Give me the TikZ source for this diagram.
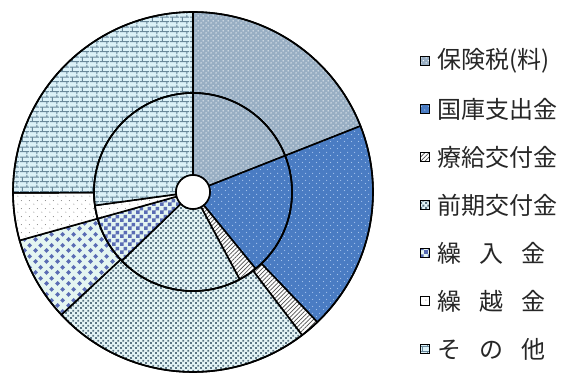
\documentclass[tikz,border=0pt]{standalone}
\usepackage{fontspec}
\usepackage{xcolor}
\usepackage{tikz}
\usetikzlibrary{patterns, patterns.meta, positioning}

\newfontfamily\jpfont{Noto Sans CJK JP}

\definecolor{hokenbg}{HTML}{98AEC3}
\definecolor{kokkobg}{HTML}{4A7CC3}
\definecolor{kokkodot}{HTML}{A4C2EC}
\definecolor{stripe}{HTML}{505050}
\definecolor{zenkibg}{HTML}{E4F4F6}
\definecolor{zenkisq}{HTML}{5A7382}
\definecolor{kuriibg}{HTML}{E4F5F1}
\definecolor{kuriisq}{HTML}{5A6CB4}
\definecolor{koshidot}{HTML}{8C8C8C}
\definecolor{sonotabg}{HTML}{DBF1F8}
\definecolor{brickline}{HTML}{68879A}

\pgfdeclarepatternformonly{hokendots}{\pgfpointorigin}{\pgfpoint{5pt}{5pt}}{\pgfpoint{5pt}{5pt}}{%
  \pgfpathcircle{\pgfpoint{1.25pt}{1.25pt}}{0.8pt}%
  \pgfpathcircle{\pgfpoint{3.75pt}{3.75pt}}{0.8pt}%
  \pgfusepath{fill}%
}
\pgfdeclarepatternformonly{kokkodots}{\pgfpointorigin}{\pgfpoint{7pt}{7pt}}{\pgfpoint{7pt}{7pt}}{%
  \pgfpathcircle{\pgfpoint{1.75pt}{1.75pt}}{0.7pt}%
  \pgfpathcircle{\pgfpoint{5.25pt}{5.25pt}}{0.7pt}%
  \pgfusepath{fill}%
}
\pgfdeclarepatternformonly{sparsedots}{\pgfpointorigin}{\pgfpoint{8pt}{8pt}}{\pgfpoint{8pt}{8pt}}{%
  \pgfpathcircle{\pgfpoint{2pt}{2pt}}{0.6pt}%
  \pgfpathcircle{\pgfpoint{6pt}{6pt}}{0.6pt}%
  \pgfusepath{fill}%
}
\pgfdeclarepatternformonly{finechecker}{\pgfpointorigin}{\pgfpoint{5pt}{5pt}}{\pgfpoint{5pt}{5pt}}{%
  \pgfpathrectangle{\pgfpoint{0.25pt}{0.25pt}}{\pgfpoint{2.1pt}{2.1pt}}%
  \pgfpathrectangle{\pgfpoint{2.75pt}{2.75pt}}{\pgfpoint{2.1pt}{2.1pt}}%
  \pgfusepath{fill}%
}
\pgfdeclarepatternformonly{bigchecker}{\pgfpointorigin}{\pgfpoint{8pt}{8pt}}{\pgfpoint{8pt}{8pt}}{%
  \pgfpathrectangle{\pgfpoint{0pt}{0pt}}{\pgfpoint{4pt}{4pt}}%
  \pgfpathrectangle{\pgfpoint{4pt}{4pt}}{\pgfpoint{4pt}{4pt}}%
  \pgfusepath{fill}%
}
\pgfdeclarepatternformonly{bigdiamond}{\pgfpointorigin}{\pgfpoint{11pt}{11pt}}{\pgfpoint{11pt}{11pt}}{%
  \pgfpathmoveto{\pgfpoint{2.75pt}{0.1pt}}\pgfpathlineto{\pgfpoint{5.4pt}{2.75pt}}%
  \pgfpathlineto{\pgfpoint{2.75pt}{5.4pt}}\pgfpathlineto{\pgfpoint{0.1pt}{2.75pt}}\pgfpathclose
  \pgfpathmoveto{\pgfpoint{8.25pt}{5.6pt}}\pgfpathlineto{\pgfpoint{10.9pt}{8.25pt}}%
  \pgfpathlineto{\pgfpoint{8.25pt}{10.9pt}}\pgfpathlineto{\pgfpoint{5.6pt}{8.25pt}}\pgfpathclose
  \pgfusepath{fill}%
}
\pgfdeclarepatternformonly{smallbricks}{\pgfpointorigin}{\pgfpoint{10pt}{10pt}}{\pgfpoint{10pt}{10pt}}{%
  \pgfsetlinewidth{1.1pt}%
  \pgfpathmoveto{\pgfpoint{0pt}{2.5pt}}\pgfpathlineto{\pgfpoint{10pt}{2.5pt}}%
  \pgfpathmoveto{\pgfpoint{0pt}{7.5pt}}\pgfpathlineto{\pgfpoint{10pt}{7.5pt}}%
  \pgfpathmoveto{\pgfpoint{2.5pt}{2.5pt}}\pgfpathlineto{\pgfpoint{2.5pt}{7.5pt}}%
  \pgfpathmoveto{\pgfpoint{7.5pt}{0pt}}\pgfpathlineto{\pgfpoint{7.5pt}{2.5pt}}%
  \pgfpathmoveto{\pgfpoint{7.5pt}{7.5pt}}\pgfpathlineto{\pgfpoint{7.5pt}{10pt}}%
  \pgfusepath{stroke}%
}

\begin{document}
\begin{tikzpicture}[x = 1pt, y = 1pt,
    ring/.style = {draw = black, line width = 1.6pt, line join = round},
    hoken/.style = {preaction = {fill = hokenbg}, pattern = hokendots, pattern color = white},
    kokko/.style = {preaction = {fill = kokkobg}, pattern = kokkodots, pattern color = kokkodot},
    ryokyu/.style = {preaction = {fill = white}, pattern = {Lines[angle = 45, distance = 3pt, line width = 0.7pt]}, pattern color = stripe},
    zenki/.style = {preaction = {fill = zenkibg}, pattern = finechecker, pattern color = zenkisq},
    kurii/.style = {preaction = {fill = kuriibg}, pattern = bigdiamond, pattern color = kuriisq},
    kuriiin/.style = {preaction = {fill = kuriibg}, pattern = bigchecker, pattern color = kuriisq},
    koshi/.style = {preaction = {fill = white}, pattern = sparsedots, pattern color = koshidot},
    sonota/.style = {preaction = {fill = sonotabg}, pattern = smallbricks, pattern color = brickline},
    keybox/.style = {draw = black, line width = 0.9pt, minimum size = 9pt, inner sep = 0pt},
    keylabel/.style = {inner sep = 0pt, text = black!85, font = \jpfont\fontsize{24}{24}\selectfont}]
    \useasboundingbox (-193, -182) rectangle (385, 192);

    % Outer ring
    \draw[ring, hoken] (90:180) arc[start angle = 90, end angle = 21.5, radius = 180] -- (21.5:99) arc[start angle = 21.5, end angle = 90, radius = 99] -- cycle;
    %
    \draw[ring, kokko] (21.5:180) arc[start angle = 21.5, end angle = -46.3, radius = 180] -- (-46.3:99) arc[start angle = -46.3, end angle = 21.5, radius = 99] -- cycle;
    %
    \draw[ring, ryokyu] (-46.3:180) arc[start angle = -46.3, end angle = -52.7, radius = 180] -- (-52.7:99) arc[start angle = -52.7, end angle = -46.3, radius = 99] -- cycle;
    %
    \draw[ring, zenki] (-52.7:180) arc[start angle = -52.7, end angle = -137, radius = 180] -- (-137:99) arc[start angle = -137, end angle = -52.7, radius = 99] -- cycle;
    %
    \draw[ring, kurii] (-137:180) arc[start angle = -137, end angle = -164.4, radius = 180] -- (-164.4:99) arc[start angle = -164.4, end angle = -137, radius = 99] -- cycle;
    %
    \draw[ring, koshi] (-164.4:180) arc[start angle = -164.4, end angle = -179.7, radius = 180] -- (-179.7:99) arc[start angle = -179.7, end angle = -164.4, radius = 99] -- cycle;
    %
    \draw[ring, sonota] (-179.7:180) arc[start angle = -179.7, end angle = -270, radius = 180] -- (-270:99) arc[start angle = -270, end angle = -179.7, radius = 99] -- cycle;

    % Inner ring
    \draw[ring, hoken] (90:99) arc[start angle = 90, end angle = 21.5, radius = 99] -- (21.5:17) arc[start angle = 21.5, end angle = 90, radius = 17] -- cycle;
    %
    \draw[ring, kokko] (21.5:99) arc[start angle = 21.5, end angle = -50.8, radius = 99] -- (-50.8:17) arc[start angle = -50.8, end angle = 21.5, radius = 17] -- cycle;
    %
    \draw[ring, ryokyu] (-50.8:99) arc[start angle = -50.8, end angle = -61.9, radius = 99] -- (-61.9:17) arc[start angle = -61.9, end angle = -50.8, radius = 17] -- cycle;
    %
    \draw[ring, zenki] (-61.9:99) arc[start angle = -61.9, end angle = -136, radius = 99] -- (-136:17) arc[start angle = -136, end angle = -61.9, radius = 17] -- cycle;
    %
    \draw[ring, kuriiin] (-136:99) arc[start angle = -136, end angle = -164.4, radius = 99] -- (-164.4:17) arc[start angle = -164.4, end angle = -136, radius = 17] -- cycle;
    %
    \draw[ring, koshi] (-164.4:99) arc[start angle = -164.4, end angle = -172.2, radius = 99] -- (-172.2:17) arc[start angle = -172.2, end angle = -164.4, radius = 17] -- cycle;
    %
    \draw[ring, sonota] (-172.2:99) arc[start angle = -172.2, end angle = -270, radius = 99] -- (-270:17) arc[start angle = -270, end angle = -172.2, radius = 17] -- cycle;

    % Circles
    \draw[ring] (0, 0) circle[radius = 180];
    %
    \draw[ring] (0, 0) circle[radius = 99];
    %
    \draw[ring, fill = white] (0, 0) circle[radius = 17];

    % Legend
    \node[keybox, hoken] (key1) at (231.5, 131) {};
    \node[keylabel, right = 8pt of key1] (lbl1) {保険税(料)};
    %
    \node[keybox, kokko] (key2) at (231.5, 83) {};
    \node[keylabel, right = 8pt of key2] (lbl2) {国庫支出金};
    %
    \node[keybox, ryokyu] (key3) at (231.5, 35) {};
    \node[keylabel, right = 8pt of key3] (lbl3) {療給交付金};
    %
    \node[keybox, zenki] (key4) at (231.5, -13) {};
    \node[keylabel, right = 8pt of key4] (lbl4) {前期交付金};
    %
    \node[keybox, kuriiin] (key5) at (231.5, -61) {};
    \node[keylabel, right = 8pt of key5] (lbl5) {繰\hspace{0.75em}入\hspace{0.75em}金};
    %
    \node[keybox, koshi] (key6) at (231.5, -109) {};
    \node[keylabel, right = 8pt of key6] (lbl6) {繰\hspace{0.75em}越\hspace{0.75em}金};
    %
    \node[keybox, sonota] (key7) at (231.5, -157) {};
    \node[keylabel, right = 8pt of key7] (lbl7) {そ\hspace{0.75em}の\hspace{0.75em}他};
\end{tikzpicture}
\end{document}
